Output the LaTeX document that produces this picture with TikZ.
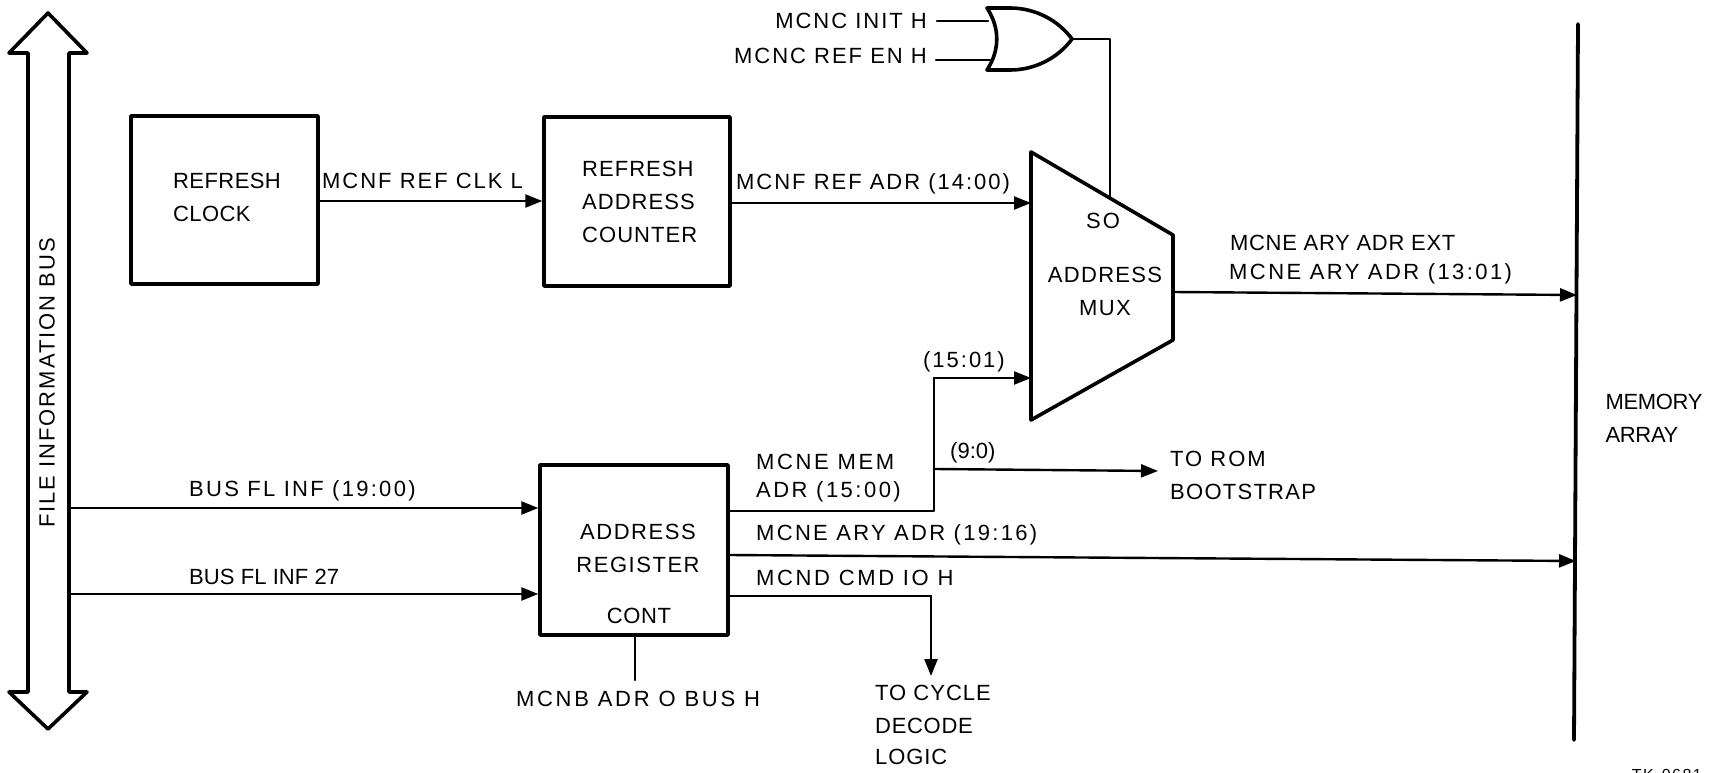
\documentclass[tikz,border=0pt]{standalone}
\usepackage{fontspec}
\setmainfont[LetterSpace=9]{Liberation Sans}
\usetikzlibrary{arrows.meta}
\newcommand{\lbl}{\fontsize{22}{32}\selectfont}
\tikzset{
  x=1pt,y=-1pt,
  ink/.style={draw=black,line join=round,line cap=round},
  boxnode/.style={ink,line width=3.4pt,inner sep=0pt},
  bold/.style={ink,line width=3.6pt},
  wire/.style={ink,line width=2.4pt},
  arr/.style={wire,-{Triangle[length=17pt,width=13pt]}},
  lbl/.style={inner sep=0pt,font=\lbl,text=black,align=left},
  sz/.style={font=\lbl\addfontfeature{LetterSpace=#1}},
}
\begin{document}
\begin{tikzpicture}
\useasboundingbox (0,0) rectangle (1717,773);
% bus
\draw[bold] (48,13) -- (87,53) -- (69,53) -- (69,692) -- (87,692) -- (48,729) -- (9,692) -- (28,692) -- (28,53) -- (9,53) -- cycle;
\node[lbl,rotate=90] (bus) at (47,383) {FILE INFORMATION BUS};
% boxes
\node[boxnode,minimum width=187pt,minimum height=168pt] (clock) at (224.5,200) {};
\node[lbl,sz=1.9,anchor=west] (clockt) at (173,197) {REFRESH\\[1pt]CLOCK};
\node[boxnode,minimum width=186pt,minimum height=169pt] (counter) at (637,201.5) {};
\node[lbl,sz=4.7,anchor=west] (countert) at (582,202) {REFRESH\\[1pt]ADDRESS\\[1pt]COUNTER};
\node[boxnode,minimum width=188pt,minimum height=170pt] (reg) at (634,550) {};
\node[lbl,sz=7,align=center] (regt) at (638,548) {ADDRESS\\[1pt]REGISTER};
\node[lbl,sz=2.7] (cont) at (639,616) {CONT};
% mux
\coordinate (mtl) at (1031,152);
\coordinate (mtr) at (1173,235);
\coordinate (mbr) at (1173,340);
\coordinate (mbl) at (1031,420);
\draw[bold] (mtl) -- (mtr) -- (mbr) -- (mbl) -- cycle;
\node[lbl] (so) at (1103,221) {SO};
\node[lbl,sz=6,align=center] (muxt) at (1105,291) {ADDRESS\\[1pt]MUX};
% memory
\coordinate (memtop) at (1578,24);
\coordinate (membot) at (1574,740);
\draw[ink,line width=3.8pt] (memtop) -- (membot);
\node[lbl,sz=-1.5,align=left] (memt) at (1654,418) {MEMORY\\[1pt]ARRAY};
% OR gate
\coordinate (ortl) at (987,8);
\coordinate (orbl) at (987,70);
\coordinate (orout) at (1072,39);
\draw[bold] (ortl) -- (1010,8) .. controls (1035,8) and (1058,20) .. (orout) .. controls (1058,58) and (1035,70) .. (1010,70) -- (orbl) .. controls (1000,50) and (1000,28) .. (ortl) -- cycle;
\node[lbl,anchor=east] (in1) at (927,21) {MCNC INIT H};
\node[lbl,anchor=east] (in2) at (927,56) {MCNC REF EN H};
\draw[wire] (in1.east)+(10,0) -- (988,21);
\draw[wire] (in2.east)+(9,4) -- (990,60);
\coordinate (so1) at (1110,197);
\draw[wire] (orout) -- (1110,39) -- (so1);
% connectors
\node[lbl,anchor=west] (l1) at (322,181) {MCNF REF CLK L};
\draw[arr] (clock.east |- 0,201) -- (counter.west |- 0,201);
\node[lbl,anchor=west] (l2) at (736,184) {MCNF REF ADR (14:00)};
\draw[arr] (counter.east |- 0,203) -- (1031,203);
\node[lbl,sz=3,anchor=west] (l3) at (1230,243) {MCNE ARY ADR EXT};
\node[lbl,sz=11,anchor=west] (l4) at (1229,274) {MCNE ARY ADR (13:01)};
\draw[arr] (1173,292) -- (1577,295);
\node[lbl,anchor=west] (l5) at (923,362) {(15:01)};
\draw[wire] (reg.east |- 0,511) -- (934,511) -- (934,378);
\draw[arr] (934,378) -- (1031,378);
\node[lbl,sz=12,anchor=west] (l6) at (756,462) {MCNE MEM};
\node[lbl,sz=11.3,anchor=west] (l7) at (756,492) {ADR (15:00)};
\node[lbl,sz=0,anchor=west] (l8) at (950,453) {(9:0)};
\draw[arr] (935,469) -- (1158,471);
\node[lbl,anchor=west] (rom1) at (1170,459) {TO ROM};
\node[lbl,sz=5.7,anchor=west] (rom2) at (1170,492) {BOOTSTRAP};
\node[lbl,sz=10.4,anchor=west] (l9) at (189,491) {BUS FL INF (19:00)};
\draw[arr] (69,508) -- (reg.west |- 0,508);
\node[lbl,sz=0.4,anchor=west] (l10) at (189,577) {BUS FL INF 27};
\draw[arr] (69,594) -- (reg.west |- 0,594);
\node[lbl,sz=10.5,anchor=west] (l11) at (756,535) {MCNE ARY ADR (19:16)};
\draw[arr] (reg.east |- 0,555) -- (1576,561);
\node[lbl,sz=12,anchor=west] (l12) at (756,578) {MCND CMD IO H};
\coordinate (cyc) at (931,676);
\draw[wire] (reg.east |- 0,596) -- (931,596);
\draw[arr] (931,596) -- (cyc);
\node[lbl,sz=4.6,anchor=west] (c1) at (875,693) {TO CYCLE};
\node[lbl,sz=3.2,anchor=west] (c2) at (875,726) {DECODE};
\node[lbl,sz=4,anchor=west] (c3) at (875,757) {LOGIC};
\node[lbl,sz=12.4] (b) at (638,699) {MCNB ADR O BUS H};
\draw[wire] (635,635) -- (635,680);
\node[lbl,anchor=north east,font=\fontsize{16}{18}\selectfont] (tk) at (1702,769) {TK-0681};
\end{tikzpicture}
\end{document}
